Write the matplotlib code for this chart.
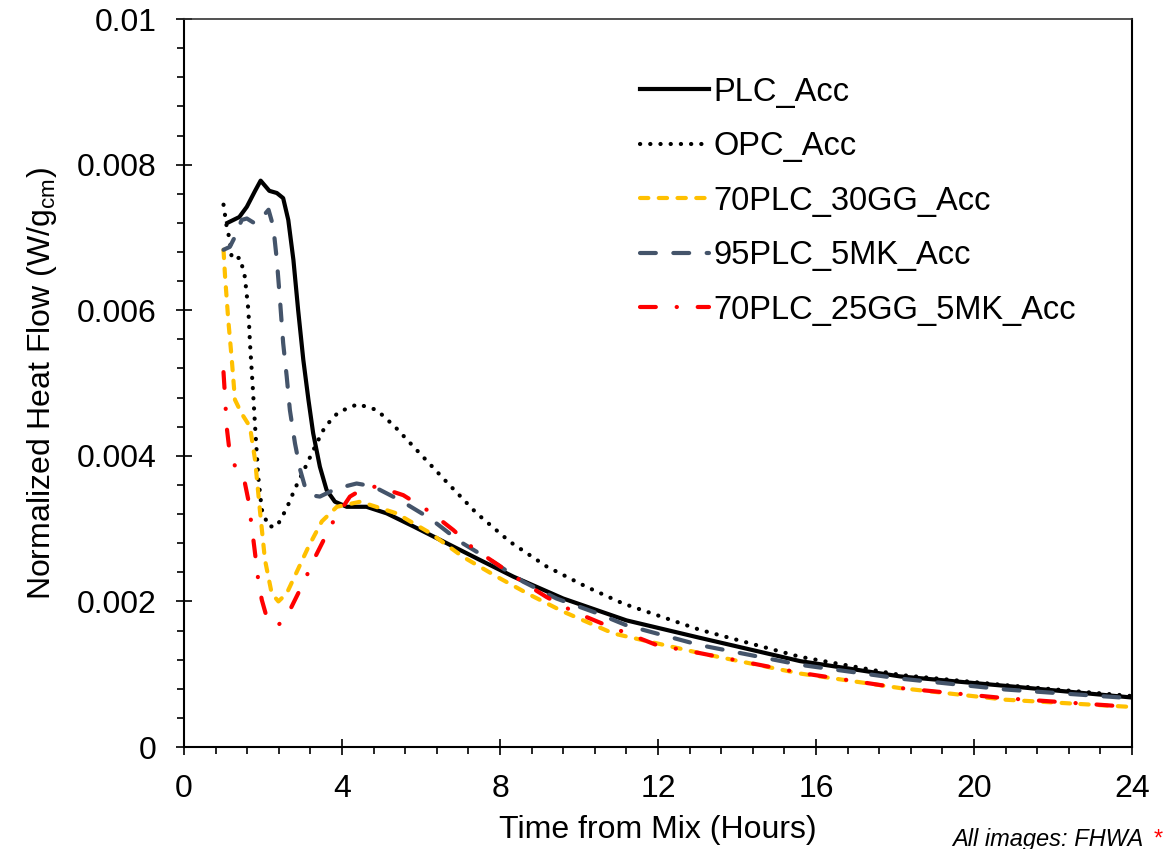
import matplotlib
matplotlib.use('Agg')
import matplotlib.pyplot as plt
from matplotlib.ticker import MultipleLocator

plt.rcParams['font.family'] = ['Liberation Sans', 'DejaVu Sans']
plt.rcParams['mathtext.fontset'] = 'custom'
plt.rcParams['mathtext.rm'] = 'Liberation Sans'
plt.rcParams['mathtext.it'] = 'Liberation Sans:italic'

# values (time in hours, heat flow in W/g)
plc_t = [1.10, 1.40, 1.59, 1.80, 1.94, 2.16, 2.35, 2.51, 2.64, 2.77, 2.89, 3.02, 3.15,
         3.27, 3.44, 3.61, 3.82, 4.12, 4.62, 5.13, 5.81, 6.65, 7.49, 8.34, 9.60,
         11.2, 13.06, 15.6, 18.13, 20.8, 24.0]
plc_v = [0.00720, 0.00728, 0.00742, 0.00764, 0.00778, 0.00764, 0.00761, 0.00754,
         0.00724, 0.00669, 0.00600, 0.00532, 0.00477, 0.00431, 0.00385, 0.00353,
         0.00337, 0.00330, 0.00330, 0.00321, 0.00303, 0.00280, 0.00257, 0.00234,
         0.00204, 0.00174, 0.00150, 0.00118, 0.00097, 0.00084, 0.00068]

opc_t = [1.00, 1.08, 1.16, 1.21, 1.42, 1.54, 1.63, 1.67, 1.75, 1.80, 1.88, 1.97, 2.14,
         2.35, 2.60, 2.81, 3.06, 3.32, 3.57, 3.91, 4.40, 4.88, 5.34, 5.89, 6.65, 7.41,
         8.25, 9.18, 10.19, 11.12, 13.06, 15.59, 18.13, 20.8, 24.0]
opc_v = [0.00745, 0.00715, 0.00696, 0.00671, 0.00672, 0.00646, 0.00600, 0.00555,
         0.00486, 0.00440, 0.00371, 0.00326, 0.00303, 0.00303, 0.00328, 0.00355,
         0.00383, 0.00413, 0.00440, 0.00460, 0.00471, 0.00463, 0.00440, 0.00408,
         0.00364, 0.00321, 0.00282, 0.00248, 0.00220, 0.00197, 0.00161, 0.00124,
         0.00099, 0.00085, 0.00070]

gg_t = [1.00, 1.04, 1.12, 1.21, 1.29, 1.46, 1.67, 1.80, 1.92, 2.05, 2.22, 2.39, 2.60,
        2.85, 3.15, 3.49, 3.87, 4.46, 5.38, 6.23, 7.07, 7.92, 8.76, 9.60, 10.87,
        13.06, 15.59, 18.13, 20.8, 24.0]
gg_v = [0.00683, 0.00646, 0.00587, 0.00532, 0.00477, 0.00458, 0.00440, 0.00394,
        0.00326, 0.00257, 0.00211, 0.00200, 0.00211, 0.00240, 0.00275, 0.00310,
        0.00330, 0.00337, 0.00321, 0.00294, 0.00261, 0.00234, 0.00209, 0.00186,
        0.00156, 0.00129, 0.00101, 0.00081, 0.00065, 0.00055]

mk_t = [1.00, 1.16, 1.29, 1.46, 1.59, 1.80, 1.92, 2.14, 2.26, 2.35, 2.43, 2.51, 2.60,
        2.68, 2.81, 2.94, 3.06, 3.20, 3.44, 3.86, 4.37, 4.79, 5.47, 6.23, 6.99,
        7.75, 8.59, 9.43, 10.45, 11.21, 13.06, 15.59, 18.13, 20.8, 24.0]
mk_v = [0.00683, 0.00687, 0.00701, 0.00724, 0.00726, 0.00719, 0.00724, 0.00738,
        0.00715, 0.00669, 0.00614, 0.00555, 0.00509, 0.00463, 0.00417, 0.00381,
        0.00358, 0.00346, 0.00344, 0.00355, 0.00362, 0.00358, 0.00339, 0.00314,
        0.00282, 0.00257, 0.00227, 0.00204, 0.00184, 0.00167, 0.00140, 0.00113,
        0.00094, 0.00079, 0.00067]

ggmk_t = [1.00, 1.04, 1.08, 1.16, 1.33, 1.54, 1.63, 1.70, 1.79, 1.88, 1.97, 2.09,
          2.25, 2.39, 2.55, 2.68, 2.89, 3.12, 3.32, 3.57, 3.78, 4.20, 4.54, 4.88,
          5.55, 6.23, 6.82, 7.32, 7.96, 8.59, 9.18, 9.86, 10.57, 11.97, 13.06,
          15.59, 18.13, 20.8, 24.0]
ggmk_v = [0.00515, 0.00480, 0.00440, 0.00403, 0.00381, 0.00363, 0.00339, 0.00309,
          0.00270, 0.00229, 0.00202, 0.00179, 0.00168, 0.00168, 0.00175, 0.00188,
          0.00211, 0.00237, 0.00261, 0.00288, 0.00310, 0.00344, 0.00355, 0.00358,
          0.00346, 0.00323, 0.00298, 0.00273, 0.00250, 0.00226, 0.00206, 0.00186,
          0.00170, 0.00140, 0.00129, 0.00102, 0.00081, 0.00067, 0.00055]

fig = plt.figure(figsize=(11.75, 8.49), dpi=100)
ax = fig.add_axes([0.1566, 0.1201, 0.8068, 0.8575])

lw = 3
ax.plot(plc_t, plc_v, color='black', lw=lw, label='PLC_Acc')
ax.plot(opc_t, opc_v, color='black', lw=lw, linestyle=(0, (0.05, 2.4)),
        dash_capstyle='round', label='OPC_Acc')
ax.plot(gg_t, gg_v, color='#FFC000', lw=lw, linestyle=(0, (2.0, 2.5)),
        dash_capstyle='round', label='70PLC_30GG_Acc')
ax.plot(mk_t, mk_v, color='#44546A', lw=lw, linestyle=(0, (3.8, 4.2)),
        dash_capstyle='round', label='95PLC_5MK_Acc')
ax.plot(ggmk_t, ggmk_v, color='#FF0000', lw=lw, linestyle=(0, (3.8, 5.0, 0.05, 5.0)),
        dash_capstyle='round', label='70PLC_25GG_5MK_Acc')

ax.set_xlim(0, 24)
ax.set_ylim(0, 0.01)
ax.xaxis.set_major_locator(MultipleLocator(4))
ax.xaxis.set_minor_locator(MultipleLocator(0.8))
ax.yaxis.set_major_locator(MultipleLocator(0.002))
ax.yaxis.set_minor_locator(MultipleLocator(0.0004))
ax.set_yticks([0, 0.002, 0.004, 0.006, 0.008, 0.01])
ax.set_yticklabels(['0', '0.002', '0.004', '0.006', '0.008', '0.01'])

ax.tick_params(axis='both', which='major', direction='inout', length=11, width=1.2,
               labelsize=23)
ax.tick_params(axis='both', which='minor', direction='out', length=5, width=1.2)
ax.tick_params(axis='x', which='major', pad=14)
ax.tick_params(axis='y', which='major', pad=14)
ax.tick_params(top=False, right=False, which='both')

for side in ['left', 'bottom', 'right']:
    ax.spines[side].set_linewidth(1.5)
ax.spines['top'].set_linewidth(1.2)
ax.spines['top'].set_color('#333333')

ax.set_xlabel('Time from Mix (Hours)', fontsize=23)
ax.set_ylabel(r'Normalized Heat Flow (W/g$_{\mathrm{cm}}$)', fontsize=23)
ax.xaxis.set_label_coords(0.5, -0.094)
ax.yaxis.set_label_coords(-0.132, 0.5)

ax.legend(loc='upper left', bbox_to_anchor=(0.481, 0.921), frameon=False,
          fontsize=23.5, borderpad=0, borderaxespad=0, handlelength=2.1,
          handletextpad=0.15, labelspacing=0.72)

fig.text(0.81, 0.004, 'All images: FHWA', fontsize=17, style='italic',
         ha='left', va='baseline')
fig.text(0.982, 0.004, '*', fontsize=17, color='red', ha='left', va='baseline')

fig.savefig('out.png', dpi=100)
